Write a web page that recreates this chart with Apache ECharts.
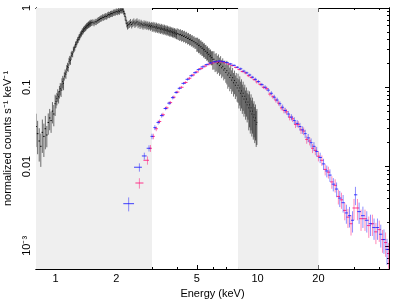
<!DOCTYPE html>
<html><head><meta charset="utf-8">
<script src="https://cdn.jsdelivr.net/npm/echarts@6/dist/echarts.min.js"></script>
<style>html,body{margin:0;padding:0;background:#fff}#c{width:399px;height:300px}</style>
</head><body><div id="c"></div>
<script>
// ---- axis ranges and ticks (keV, normalized counts) ----
const xRange = [0.8, 44.7];
const yRange = [5.1e-4, 1.0];
const xMajorTicks = [1, 2, 5, 10, 20];
const xTickLabels = ['1', '2', '5', '10', '20'];
const xMinorTicks = [0.9, 3, 4, 6, 7, 8, 9, 30, 40];
const yMajorTicks = [0.001, 0.01, 0.1, 1];
const yTickLabels = ['10\u207B\u00B3', '0.01', '0.1', '1'];
const yMinorTicks = [6e-4,7e-4,8e-4,9e-4,0.002,0.003,0.004,0.005,0.006,0.007,0.008,0.009,
  0.02,0.03,0.04,0.05,0.06,0.07,0.08,0.09,0.2,0.3,0.4,0.5,0.6,0.7,0.8,0.9];
const shadedBands = [[0.8, 3], [8, 20]];

// ---- black spectrum (soft X-ray) ----
const blackE = [
0.800,0.815,0.830,0.845,0.860,0.875,0.890,0.905,0.920,0.935,0.950,0.965,0.980,0.995,
1.005,1.015,1.025,1.035,1.045,1.055,1.065,1.075,1.085,1.095,
1.105,1.115,1.125,1.135,1.145,1.155,1.165,1.175,1.185,1.195,
1.205,1.215,1.225,1.235,1.245,1.255,1.265,1.275,1.285,1.295,
1.305,1.315,1.325,1.335,1.345,1.355,1.365,1.375,1.385,1.395,
1.405,1.415,1.425,1.435,1.445,1.455,1.465,1.475,1.485,1.495,
1.51,1.53,1.55,1.57,1.59,1.61,1.63,1.65,1.67,1.69,
1.71,1.73,1.75,1.77,1.79,1.81,1.83,1.85,1.87,1.89,
1.91,1.93,1.95,1.97,1.99,2.01,2.03,2.05,2.07,2.09,
2.11,2.13,2.15,2.17,2.19,2.21,2.23,2.25,2.27,2.29,
2.32,2.35,2.38,2.41,2.44,2.47,2.50,2.53,2.56,2.59,
2.62,2.65,2.68,2.71,2.74,2.77,2.80,2.83,2.86,2.89,
2.92,2.95,2.98,3.01,3.04,3.07,3.10,3.13,3.16,3.19,
3.22,3.25,3.28,3.31,3.34,3.37,3.40,3.43,3.46,3.49,
3.52,3.55,3.58,3.61,3.64,3.67,3.70,3.73,3.76,3.79,
3.82,3.85,3.88,3.91,3.94,3.97,4.00,
4.05,4.10,4.15,4.20,4.25,4.30,4.35,4.40,4.45,4.50,
4.55,4.60,4.65,4.70,4.75,4.80,4.85,4.90,4.95,5.00,
5.05,5.10,5.15,5.20,5.25,5.30,5.35,5.40,5.45,5.50,
5.55,5.60,5.65,5.70,5.75,5.80,5.85,5.90,5.95,6.00,
6.08,6.16,6.24,6.32,6.40,6.48,6.56,6.64,6.72,6.80,
6.88,6.96,7.04,7.12,7.20,7.28,7.36,7.44,7.52,7.60,
7.68,7.76,7.84,7.92,8.00,8.08,8.16,8.24,8.32,8.40,
8.48,8.56,8.64,8.72,8.80,8.88,8.96,9.04,9.12,9.20,
9.28,9.36,9.44,9.52,9.60,9.68,9.76,9.84,9.92];
const blackY = [
0.032,0.026,0.021,0.018,0.027,0.024,0.030,0.025,0.036,0.041,0.038,0.050,0.046,0.062,
0.066,0.072,0.080,0.076,0.088,0.096,0.092,0.110,0.118,0.112,
0.138,0.150,0.145,0.170,0.182,0.178,0.210,0.222,0.218,0.250,
0.265,0.262,0.295,0.305,0.318,0.345,0.350,0.372,0.392,0.400,
0.425,0.432,0.455,0.470,0.482,0.505,0.510,0.528,0.545,0.548,
0.565,0.572,0.590,0.598,0.605,0.620,0.615,0.640,0.632,0.655,
0.650,0.662,0.645,0.670,0.668,0.690,0.705,0.718,0.735,0.742,
0.765,0.758,0.778,0.790,0.782,0.810,0.825,0.818,0.842,0.850,
0.845,0.872,0.885,0.870,0.898,0.905,0.890,0.920,0.900,0.935,
0.950,0.925,0.955,0.905,0.850,0.780,0.700,0.640,0.600,0.615,
0.630,0.655,0.620,0.645,0.665,0.630,0.650,0.668,0.625,0.648,
0.610,0.640,0.620,0.598,0.630,0.605,0.622,0.595,0.612,0.588,
0.605,0.580,0.598,0.575,0.592,0.568,0.585,0.560,0.578,0.555,
0.570,0.548,0.562,0.540,0.558,0.535,0.550,0.528,0.545,0.522,
0.538,0.515,0.530,0.508,0.522,0.500,0.515,0.495,0.508,0.488,
0.500,0.480,0.494,0.472,0.486,0.465,0.478,
0.470,0.458,0.465,0.448,0.455,0.438,0.445,0.425,0.432,0.412,
0.418,0.400,0.405,0.388,0.392,0.375,0.380,0.362,0.366,0.350,
0.352,0.336,0.340,0.322,0.326,0.310,0.312,0.296,0.300,0.284,
0.286,0.270,0.274,0.258,0.262,0.246,0.250,0.236,0.238,0.225,
0.226,0.210,0.214,0.198,0.206,0.188,0.196,0.176,0.184,0.165,
0.172,0.154,0.162,0.143,0.151,0.133,0.142,0.123,0.132,0.114,
0.122,0.106,0.114,0.098,0.106,0.090,0.098,0.084,0.090,0.077,
0.084,0.071,0.077,0.065,0.071,0.060,0.065,0.055,0.060,0.050,
0.055,0.046,0.050,0.042,0.045,0.038,0.041,0.034,0.036];
// relative error of the black bins, by energy band (upper edge in keV)
const blackErrEdges = [0.9, 1.0, 1.1, 1.2, 2.2, 3.0, 4.0, 5.0, 6.0, 7.0, 8.0, 9.0, 10.5];
const blackErrLevels = [0.45, 0.3, 0.18, 0.12, 0.09, 0.11, 0.13, 0.16, 0.2, 0.26, 0.33, 0.4, 0.48];

// ---- red spectrum (FPMA) ----
const redE = [
2.6,2.85,2.95,3.05,3.15,3.27,3.4,3.55,3.7,3.85,
4.0,4.2,4.4,4.6,4.8,5.0,5.25,5.5,5.75,6.0,
6.3,6.6,6.9,7.2,7.5,7.8,8.1,8.4,8.7,9.0,
9.3,9.6,9.9,10.3,10.7,11.1,11.5,11.9,12.3,12.7,
13.1,13.5,13.9,14.4,14.9,15.4,15.9,16.4,16.9,17.5,
18.1,18.7,19.3,20.0,20.8,21.6,22.4,23.3,24.2,25.1,
26.0,27.0,28.0,29.0,30.0,31.2,32.5,34.0,35.5,37.0,
38.5,40.0,41.5,43.0,44.5];
const redY = [
0.0062,0.012,0.017,0.024,0.030,0.037,0.045,0.055,0.064,0.075,
0.087,0.100,0.115,0.130,0.143,0.156,0.172,0.185,0.196,0.203,
0.209,0.210,0.204,0.196,0.188,0.178,0.168,0.158,0.152,0.140,
0.133,0.125,0.117,0.109,0.100,0.096,0.082,0.076,0.069,0.063,
0.055,0.051,0.049,0.042,0.040,0.034,0.034,0.029,0.028,0.022,
0.021,0.017,0.016,0.0135,0.012,0.0092,0.0085,0.0064,0.0058,0.0042,
0.0038,0.0028,0.0023,0.0019,0.0030,0.0030,0.0022,0.0022,0.0018,0.0019,
0.0015,0.0016,0.0012,0.0011,0.0008];
const redErr = [
0.15,0.12,0.1,0.08,0.07,0.06,0.06,0.05,0.05,0.05,
0.04,0.04,0.04,0.04,0.04,0.04,0.04,0.04,0.04,0.04,
0.03,0.03,0.03,0.03,0.03,0.03,0.03,0.03,0.04,0.04,
0.04,0.04,0.05,0.05,0.05,0.06,0.06,0.06,0.07,0.07,
0.07,0.08,0.08,0.09,0.09,0.1,0.1,0.11,0.11,0.12,
0.12,0.13,0.13,0.14,0.15,0.16,0.17,0.18,0.19,0.21,
0.23,0.25,0.27,0.29,0.3,0.3,0.3,0.3,0.3,0.3,
0.3,0.3,0.32,0.34,0.36];

// ---- blue spectrum (FPMB) ----
const blueE = [
2.3,2.6,2.75,2.9,3.0,3.1,3.22,3.35,3.5,3.65,
3.8,3.95,4.1,4.3,4.5,4.7,4.9,5.1,5.35,5.6,
5.85,6.15,6.45,6.75,7.05,7.35,7.65,7.95,8.25,8.55,
8.85,9.15,9.45,9.75,10.1,10.5,10.9,11.3,11.7,12.1,
12.5,12.9,13.3,13.7,14.2,14.7,15.2,15.7,16.2,16.7,
17.2,17.8,18.4,19.0,19.6,20.4,21.2,22.0,22.8,23.7,
24.6,25.5,26.5,27.5,28.5,29.5,30.5,31.8,33.2,34.7,
36.2,37.7,39.2,40.7,42.2,43.7];
const blueY = [
0.0034,0.0098,0.0136,0.017,0.024,0.031,0.036,0.044,0.054,0.063,
0.074,0.086,0.097,0.112,0.126,0.140,0.153,0.167,0.181,0.193,
0.203,0.210,0.214,0.211,0.205,0.197,0.189,0.179,0.171,0.160,
0.152,0.143,0.134,0.126,0.118,0.108,0.100,0.092,0.084,0.075,
0.069,0.062,0.056,0.051,0.046,0.042,0.038,0.035,0.032,0.029,
0.026,0.023,0.020,0.018,0.0155,0.013,0.0108,0.0088,0.0078,0.0060,
0.0052,0.0040,0.0035,0.0026,0.0024,0.0021,0.0044,0.0027,0.0024,0.0021,
0.0019,0.0017,0.0017,0.0014,0.0012,0.0009];
const blueErr = [
0.2,0.12,0.1,0.09,0.08,0.07,0.06,0.06,0.05,0.05,
0.05,0.04,0.04,0.04,0.04,0.04,0.04,0.04,0.04,0.03,
0.03,0.03,0.03,0.03,0.03,0.03,0.03,0.03,0.04,0.04,
0.04,0.04,0.04,0.05,0.05,0.05,0.06,0.06,0.06,0.07,
0.07,0.07,0.08,0.08,0.09,0.09,0.1,0.1,0.11,0.11,
0.12,0.12,0.13,0.13,0.14,0.15,0.16,0.17,0.18,0.19,
0.21,0.23,0.25,0.27,0.29,0.3,0.26,0.3,0.3,0.3,
0.3,0.3,0.3,0.32,0.34,0.36];

// ---- build ----
const L = Math.log10;
function buildRows(E, Y, errOf) {
  return E.map((e, i) => {
    const prev = i > 0 ? E[i - 1] : e * e / E[i + 1];
    const next = i < E.length - 1 ? E[i + 1] : e * e / E[i - 1];
    const lo = Math.sqrt(prev * e), hi = Math.sqrt(next * e);
    const r = Math.min(errOf(i, e), 0.9);
    return [L(e), L(Y[i]), L(Y[i] * (1 - r)), L(Y[i] * (1 + r)), L(lo), L(hi)];
  });
}
function blackErrOf(i, e) {
  for (let k = 0; k < blackErrEdges.length; k++) if (e < blackErrEdges[k]) return blackErrLevels[k];
  return blackErrLevels[blackErrLevels.length - 1];
}
const FONT = 'Liberation Sans, Arial, sans-serif';
const xMin = L(xRange[0]), xMax = L(xRange[1]);
const yMin = L(yRange[0]), yMax = L(yRange[1]);

function labelFor(ticks, labels) {
  return v => {
    for (let i = 0; i < ticks.length; i++) if (Math.abs(L(ticks[i]) - v) < 1e-6) return labels[i];
    return '';
  };
}
function axisCfg(pos, ticks, len, withLabels, min, max, extra) {
  const lv = ticks.map(L);
  return Object.assign({
    type: 'value', position: pos, min: min, max: max,
    axisLine: { show: true, onZero: false, lineStyle: { color: '#000', width: 1 } },
    axisTick: { show: true, inside: true, length: len, customValues: lv, lineStyle: { color: '#000', width: 1 } },
    axisLabel: withLabels ? { show: true, customValues: lv, color: '#000', fontSize: 11, fontFamily: FONT } : { show: false },
    splitLine: { show: false }
  }, extra || {});
}

const xMajorLabelCfg = axisCfg('bottom', xMajorTicks, 4, true, xMin, xMax, {
  name: 'Energy (keV)', nameLocation: 'middle', nameGap: 16,
  nameTextStyle: { color: '#000', fontSize: 11, fontFamily: FONT }
});
xMajorLabelCfg.axisLabel.formatter = labelFor(xMajorTicks, xTickLabels);
xMajorLabelCfg.axisLabel.margin = 4;

const yMajorLabelCfg = axisCfg('left', yMajorTicks, 4, true, yMin, yMax, {
  name: 'normalized counts s\u207B\u00B9 keV\u207B\u00B9', nameLocation: 'middle', nameGap: 19,
  nameTextStyle: { color: '#000', fontSize: 11, fontFamily: FONT }
});
yMajorLabelCfg.axisLabel.formatter = labelFor(yMajorTicks, yTickLabels);
yMajorLabelCfg.axisLabel.rotate = 90;
yMajorLabelCfg.axisLabel.margin = 4;

function errRender(cH, cV) {
  return function (params, api) {
    const x = api.value(0), y = api.value(1);
    const pL = api.coord([api.value(4), y]), pR = api.coord([api.value(5), y]);
    const pB = api.coord([x, api.value(2)]), pT = api.coord([x, api.value(3)]);
    return { type: 'group', children: [
      { type: 'line', shape: { x1: pB[0], y1: pB[1], x2: pT[0], y2: pT[1] }, style: { stroke: cV, lineWidth: 1 } },
      { type: 'line', shape: { x1: pL[0], y1: pL[1], x2: pR[0], y2: pR[1] }, style: { stroke: cH, lineWidth: 1 } }
    ] };
  };
}
function errSeries(name, rows, cH, cV, z) {
  return { type: 'custom', name: name, coordinateSystem: 'cartesian2d', xAxisIndex: 0, yAxisIndex: 0,
    data: rows, encode: { x: 0, y: 1 }, clip: true, silent: true, z: z, renderItem: errRender(cH, cV) };
}

const chart = echarts.init(document.getElementById('c'), null, { renderer: 'canvas' });
chart.setOption({
  animation: false,
  backgroundColor: '#fff',
  grid: { left: 36, right: 10, top: 8, bottom: 31, containLabel: false, outerBoundsMode: 'none' },
  xAxis: [
    xMajorLabelCfg,
    axisCfg('bottom', xMinorTicks, 2, false, xMin, xMax),
    axisCfg('top', xMajorTicks, 4, false, xMin, xMax),
    axisCfg('top', xMinorTicks, 2, false, xMin, xMax)
  ],
  yAxis: [
    yMajorLabelCfg,
    axisCfg('left', yMinorTicks, 2, false, yMin, yMax),
    axisCfg('right', yMajorTicks, 4, false, yMin, yMax),
    axisCfg('right', yMinorTicks, 2, false, yMin, yMax)
  ],
  series: [
    { type: 'custom', coordinateSystem: 'cartesian2d', xAxisIndex: 0, yAxisIndex: 0, silent: true, z: 1, clip: true,
      data: shadedBands.map(b => [L(b[0]), L(b[1])]), encode: { x: [0, 1] },
      renderItem: function (params, api) {
        const a = api.coord([api.value(0), yMax]), b = api.coord([api.value(1), yMin]);
        return { type: 'rect', shape: { x: a[0], y: a[1], width: b[0] - a[0], height: b[1] - a[1] }, style: { fill: '#efefef' } };
      } },
    errSeries('black', buildRows(blackE, blackY, blackErrOf), 'rgba(0,0,0,0.95)', 'rgba(0,0,0,0.55)', 2),
    errSeries('red', buildRows(redE, redY, (i) => redErr[i]), 'rgba(255,20,120,0.85)', 'rgba(255,20,120,0.5)', 3),
    errSeries('blue', buildRows(blueE, blueY, (i) => blueErr[i]), 'rgba(30,30,255,0.85)', 'rgba(30,30,255,0.5)', 4)
  ]
});
</script>
</body></html>
